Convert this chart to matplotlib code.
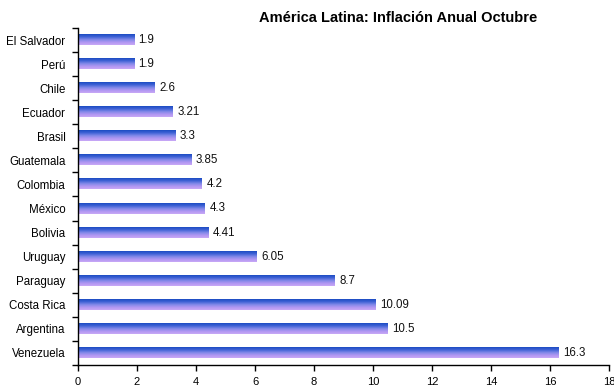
import matplotlib
matplotlib.use("Agg")
import matplotlib.pyplot as plt
import numpy as np
from matplotlib.colors import LinearSegmentedColormap

countries = ["El Salvador", "Perú", "Chile", "Ecuador", "Brasil", "Guatemala",
             "Colombia", "México", "Bolivia", "Uruguay", "Paraguay",
             "Costa Rica", "Argentina", "Venezuela"]
inflation = [1.9, 1.9, 2.6, 3.21, 3.3, 3.85, 4.2, 4.3, 4.41, 6.05, 8.7,
             10.09, 10.5, 16.3]
value_labels = ["1.9", "1.9", "2.6", "3.21", "3.3", "3.85", "4.2", "4.3",
                "4.41", "6.05", "8.7", "10.09", "10.5", "16.3"]
x_ticks = [0, 2, 4, 6, 8, 10, 12, 14, 16, 18]

plt.rcParams["font.family"] = ["Liberation Sans", "DejaVu Sans"]

fig = plt.figure(figsize=(6.14, 3.89), dpi=100)
ax = fig.add_axes([0.127, 0.062, 0.865, 0.866])

# vertical blue-to-lavender gradient for each bar
grad = LinearSegmentedColormap.from_list(
    "bar_grad", ["#1C4CC2", "#3F62D6", "#8088E8", "#B096F2", "#C8A8F6"])
gradient = np.linspace(0, 1, 64).reshape(-1, 1)

bar_h = 0.42
n = len(countries)
for i, (v, lab) in enumerate(zip(inflation, value_labels)):
    y = i
    ax.imshow(gradient, cmap=grad, aspect="auto", interpolation="bilinear",
              extent=(0, v, y + bar_h / 2, y - bar_h / 2), zorder=2)
    ax.text(v + 0.15, y, lab, va="center", ha="left", fontsize=8.3,
            color="#111111")

ax.set_xlim(0, 18)
ax.set_ylim(n - 0.5, -0.5)

ax.set_yticks(range(n))
ax.set_yticklabels(countries, fontsize=8.3)
ax.set_yticks(np.arange(-0.5, n, 1), minor=True)
ax.tick_params(axis="y", which="major", length=0, pad=9)
ax.tick_params(axis="y", which="minor", length=4, direction="out", width=1)

ax.set_xticks(x_ticks)
ax.set_xticklabels([str(t) for t in x_ticks], fontsize=8)
ax.tick_params(axis="x", length=4, width=1, pad=5)

for side in ["top", "right"]:
    ax.spines[side].set_visible(False)
for side in ["left", "bottom"]:
    ax.spines[side].set_linewidth(1)
    ax.spines[side].set_color("black")

fig.text(0.648, 0.953, "América Latina: Inflación Anual Octubre",
         ha="center", va="center", fontsize=10.5, fontweight="bold")

fig.savefig("out.png", dpi=100)
